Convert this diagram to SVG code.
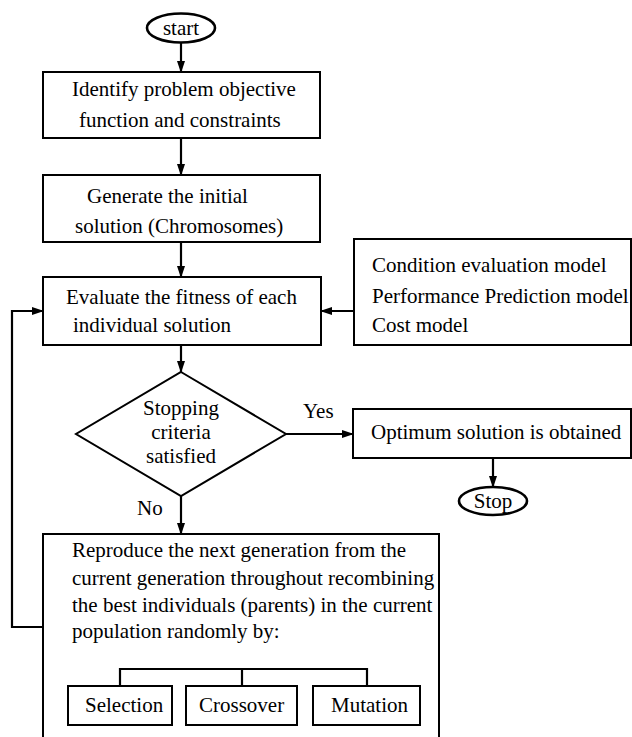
<svg xmlns="http://www.w3.org/2000/svg" width="632" height="737" viewBox="0 0 632 737">
<defs>
<marker id="ah" markerWidth="12" markerHeight="10" refX="11" refY="5" orient="auto" markerUnits="userSpaceOnUse">
<path d="M0,1 L12,5 L0,9 Z" fill="#000" stroke="none"/>
</marker>
</defs>
<rect width="632" height="737" fill="#fff"/>
<g id="connectors" fill="none" stroke="#000" stroke-width="2.2">
<line x1="181" y1="43" x2="181" y2="72" marker-end="url(#ah)"/>
<line x1="181" y1="138" x2="181" y2="175" marker-end="url(#ah)"/>
<line x1="181" y1="242" x2="181" y2="277" marker-end="url(#ah)"/>
<line x1="181" y1="345" x2="181" y2="372" marker-end="url(#ah)"/>
<line x1="354" y1="311" x2="321" y2="311" marker-end="url(#ah)"/>
<line x1="286" y1="434" x2="353" y2="434" marker-end="url(#ah)"/>
<line x1="493" y1="458" x2="493" y2="487" marker-end="url(#ah)"/>
<line x1="181" y1="496" x2="181" y2="534" marker-end="url(#ah)"/>
<polyline points="43,627 12,627 12,311 43,311" marker-end="url(#ah)"/>
</g>
<g id="labels" font-family="Liberation Serif" font-size="21" fill="#000">
<text x="303" y="418">Yes</text>
<text x="137" y="515">No</text>
</g>
<g id="start">
<ellipse cx="181" cy="28" rx="34" ry="14.5" fill="#fff" stroke="#000" stroke-width="2.6"/>
<text x="181" y="35" text-anchor="middle" font-family="Liberation Serif" font-size="21">start</text>
</g>
<g id="identify">
<rect x="43" y="72" width="277" height="66" fill="#fff" stroke="#000" stroke-width="2"/>
<text x="72" y="96" font-family="Liberation Serif" font-size="21">Identify problem objective</text>
<text x="79" y="127" font-family="Liberation Serif" font-size="21">function and constraints</text>
</g>
<g id="generate">
<rect x="43" y="175" width="277" height="67" fill="#fff" stroke="#000" stroke-width="2"/>
<text x="87" y="203" font-family="Liberation Serif" font-size="21">Generate the initial</text>
<text x="75" y="233" font-family="Liberation Serif" font-size="21">solution (Chromosomes)</text>
</g>
<g id="evaluate">
<rect x="43" y="277" width="278" height="68" fill="#fff" stroke="#000" stroke-width="2"/>
<text x="66" y="304" font-family="Liberation Serif" font-size="21">Evaluate the fitness of each</text>
<text x="73" y="332" font-family="Liberation Serif" font-size="21">individual solution</text>
</g>
<g id="models">
<rect x="354" y="239" width="277" height="106" fill="#fff" stroke="#000" stroke-width="2"/>
<text x="372" y="272" font-family="Liberation Serif" font-size="21">Condition evaluation model</text>
<text x="372" y="303" font-family="Liberation Serif" font-size="21">Performance Prediction model</text>
<text x="372" y="332" font-family="Liberation Serif" font-size="21">Cost model</text>
</g>
<g id="decision">
<polygon points="181,372 286,434 181,496 76,434" fill="#fff" stroke="#000" stroke-width="2"/>
<text x="181" y="415" text-anchor="middle" font-family="Liberation Serif" font-size="21">Stopping</text>
<text x="181" y="439" text-anchor="middle" font-family="Liberation Serif" font-size="21">criteria</text>
<text x="181" y="463" text-anchor="middle" font-family="Liberation Serif" font-size="21">satisfied</text>
</g>
<g id="optimum">
<rect x="353" y="409" width="278" height="49" fill="#fff" stroke="#000" stroke-width="2"/>
<text x="371" y="439" font-family="Liberation Serif" font-size="21">Optimum solution is obtained</text>
</g>
<g id="stop">
<ellipse cx="493" cy="501" rx="34" ry="14" fill="#fff" stroke="#000" stroke-width="2.6"/>
<text x="493" y="508" text-anchor="middle" font-family="Liberation Serif" font-size="21">Stop</text>
</g>
<g id="reproduce">
<path d="M43,745 L43,534 L439,534 L439,745" fill="#fff" stroke="#000" stroke-width="2"/>
<text x="72" y="557" font-family="Liberation Serif" font-size="21">Reproduce the next generation from the</text>
<text x="72" y="585" font-family="Liberation Serif" font-size="21">current generation throughout recombining</text>
<text x="72" y="612" font-family="Liberation Serif" font-size="21">the best individuals (parents) in the current</text>
<text x="72" y="638" font-family="Liberation Serif" font-size="21">population randomly by:</text>
<polyline points="120,686 120,669 367,669 367,686" fill="none" stroke="#000" stroke-width="2.2"/>
<line x1="242" y1="669" x2="242" y2="686" stroke="#000" stroke-width="2.2"/>
</g>
<g id="selection">
<rect x="68" y="686" width="104" height="39" fill="#fff" stroke="#000" stroke-width="2"/>
<text x="85" y="712" font-family="Liberation Serif" font-size="21">Selection</text>
</g>
<g id="crossover">
<rect x="186" y="686" width="111" height="39" fill="#fff" stroke="#000" stroke-width="2"/>
<text x="199" y="712" font-family="Liberation Serif" font-size="21">Crossover</text>
</g>
<g id="mutation">
<rect x="313" y="686" width="107" height="39" fill="#fff" stroke="#000" stroke-width="2"/>
<text x="331" y="712" font-family="Liberation Serif" font-size="21">Mutation</text>
</g>
</svg>
